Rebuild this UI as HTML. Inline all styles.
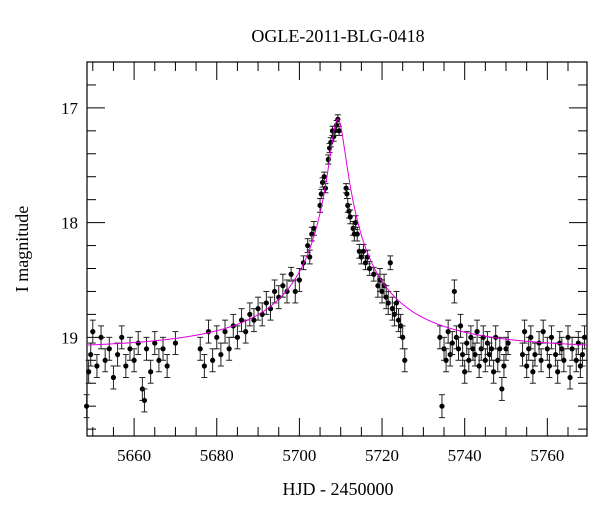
<!DOCTYPE html>
<html><head><meta charset="utf-8"><style>
body{margin:0;background:#fff}
svg text{font-family:"Liberation Serif",serif;fill:#000}
</style></head><body>
<svg id="c" width="600" height="512">
<text x="338" y="42" font-size="18" text-anchor="middle">OGLE-2011-BLG-0418</text>
<text x="338" y="495" font-size="18" text-anchor="middle">HJD - 2450000</text>
<text transform="translate(28,249) rotate(-90)" font-size="18" text-anchor="middle">I magnitude</text>
<g id="ax"></g><g id="pts"></g>
</svg>
<script>
const xTicks=[5660,5680,5700,5720,5740,5760];
const yTicks=[17,18,19];
const modelParams=[5709.3,0.05,37.6,19.1,0.28]; // t0,u0,tE,baseline,blend fraction
const timeEarly=[5648.5,5649,5649.5,5650,5651,5652,5653,5654,5655,5656,5657,5658,5659,5660,5661,5662,5662.5,5663,5664,5665,5666,5667,5668,5670];
const magEarly=[19.6,19.3,19.15,18.95,19.25,19.0,19.2,19.1,19.35,19.15,19.0,19.25,19.1,19.2,19.05,19.45,19.55,19.1,19.3,19.05,19.2,19.1,19.25,19.05];
const timeRise=[5676,5677,5678,5679,5680,5681,5682,5683,5684,5685,5686,5687,5688,5689,5690,5691,5692,5693,5694,5695,5696,5697,5698,5699,5700,5701,5702,5702.5,5703,5703.5,5705,5705.3,5705.6,5706,5706.3,5707,5707.3,5707.6,5708,5708.3,5708.6,5709,5709.3,5709.6];
const magRise=[19.1,19.25,18.95,19.2,19.0,19.15,18.95,19.1,18.9,19.0,18.85,18.95,18.8,18.85,18.75,18.8,18.7,18.75,18.6,18.65,18.55,18.6,18.45,18.6,18.5,18.35,18.2,18.3,18.1,18.05,17.85,17.75,17.65,17.6,17.7,17.45,17.35,17.3,17.2,17.25,17.2,17.15,17.1,17.2];
const timeFall=[5711.3,5711.5,5711.7,5712,5712.3,5713,5713.3,5713.6,5714,5714.5,5715,5715.5,5716,5716.5,5717,5718,5719,5719.5,5720,5720.5,5721,5721.5,5722,5722.5,5723,5723.5,5724,5724.5,5725,5725.5];
const magFall=[17.7,17.75,17.85,17.9,17.95,18.05,18.1,18.0,18.1,18.25,18.3,18.25,18.35,18.3,18.4,18.45,18.55,18.5,18.6,18.55,18.65,18.7,18.35,18.75,18.8,18.7,18.85,18.9,19.0,19.2];
const timeLate=[5734,5734.5,5735,5735.5,5736,5736.5,5737,5737.5,5738,5738.5,5739,5739.5,5740,5740.5,5741,5741.5,5742,5742.5,5743,5743.5,5744,5744.5,5745,5745.5,5746,5746.5,5747,5747.5,5748,5748.5,5749,5749.5,5750,5750.5,5754,5754.5,5755,5755.5,5756,5756.5,5757,5758,5758.5,5759,5760,5760.5,5761,5762,5762.5,5763,5763.5,5764,5765,5765.5,5766,5767,5767.5,5768,5768.5,5769];
const magLate=[19.0,19.6,19.1,19.2,18.95,19.15,19.05,18.6,19.0,19.1,18.9,19.15,19.3,19.05,19.2,19.0,19.1,19.15,18.95,19.25,19.1,19.0,19.2,19.05,19.15,19.1,19.3,19.0,19.2,19.1,19.45,19.25,19.1,19.05,19.15,18.95,19.25,19.1,19.0,19.3,19.15,19.05,19.2,18.95,19.1,19.25,19.0,19.15,19.3,19.05,19.1,19.2,19.0,19.35,19.1,19.2,19.05,19.25,19.15,19.0];
const obsTime=[...timeEarly,...timeRise,...timeFall,...timeLate];
const obsMag=[...magEarly,...magRise,...magFall,...magLate];

const L=87,R=587,T=62,B=436,x0=5648.6,x1=5769.6,y0=16.6,y1=19.86;
const sx=v=>L+(v-x0)/(x1-x0)*(R-L), sy=v=>T+(v-y0)/(y1-y0)*(B-T);
const NS="http://www.w3.org/2000/svg";
function mk(tag,at,parent){const e=document.createElementNS(NS,tag);for(const k in at)e.setAttribute(k,at[k]);parent.appendChild(e);return e;}
const ax=document.getElementById('ax'),pts=document.getElementById('pts');
const frame=mk('rect',{x:L,y:T,width:R-L,height:B-T,fill:'none',stroke:'#000','stroke-width':1.2},ax);


for(let t=5650;t<=5769;t+=5){const major=t%20===0,len=major?18:9,X=sx(t);
 mk('line',{x1:X,y1:B,x2:X,y2:B-len,stroke:'#000'},ax);mk('line',{x1:X,y1:T,x2:X,y2:T+len,stroke:'#000'},ax);}
for(let k=0;k<=16;k++){const mm=Math.round((16.6+0.2*k)*10)/10;if(mm>19.86)break;const major=Math.abs(mm-Math.round(mm))<1e-6,len=major?18:9,Y=sy(mm);
 mk('line',{x1:L,y1:Y,x2:L+len,y2:Y,stroke:'#000'},ax);mk('line',{x1:R,y1:Y,x2:R-len,y2:Y,stroke:'#000'},ax);}
xTicks.forEach(t=>{const e=mk('text',{x:sx(t),y:B+25,'font-size':17,'text-anchor':'middle'},ax);e.textContent=t;
 
 });
yTicks.forEach(m=>{const e=mk('text',{x:L-9,y:sy(m)+6,'font-size':17,'text-anchor':'end'},ax);e.textContent=m;
 
 });
obsTime.forEach((t,i)=>{const m=obsMag[i],e=m<17.8?0.04:(m<18.5?0.06:0.1),X=sx(t),Y=sy(m),ya=sy(m-e),yb=sy(m+e);
 const g=mk('g',{stroke:'#222','stroke-width':1},pts);
 
 
 mk('line',{x1:X,y1:ya,x2:X,y2:yb},g);mk('line',{x1:X-3,y1:ya,x2:X+3,y2:ya},g);mk('line',{x1:X-3,y1:yb,x2:X+3,y2:yb},g);
 mk('circle',{cx:X,cy:Y,r:2.6,fill:'#000',stroke:'none'},g);});
const [t0,u0,tE,base,fs]=modelParams;let d='';
for(let t=x0;t<=x1;t+=0.05){const tau=(t-t0)/tE,u=Math.sqrt(u0*u0+tau*tau),A=(u*u+2)/(u*Math.sqrt(u*u+4));
 const m=base-2.5*Math.log10(1+fs*(A-1));d+=(d?'L':'M')+sx(t).toFixed(1)+','+sy(m).toFixed(1);}
const model=mk('path',{d:d,fill:'none',stroke:'#e000e0','stroke-width':1},pts);


</script>
</body></html>
